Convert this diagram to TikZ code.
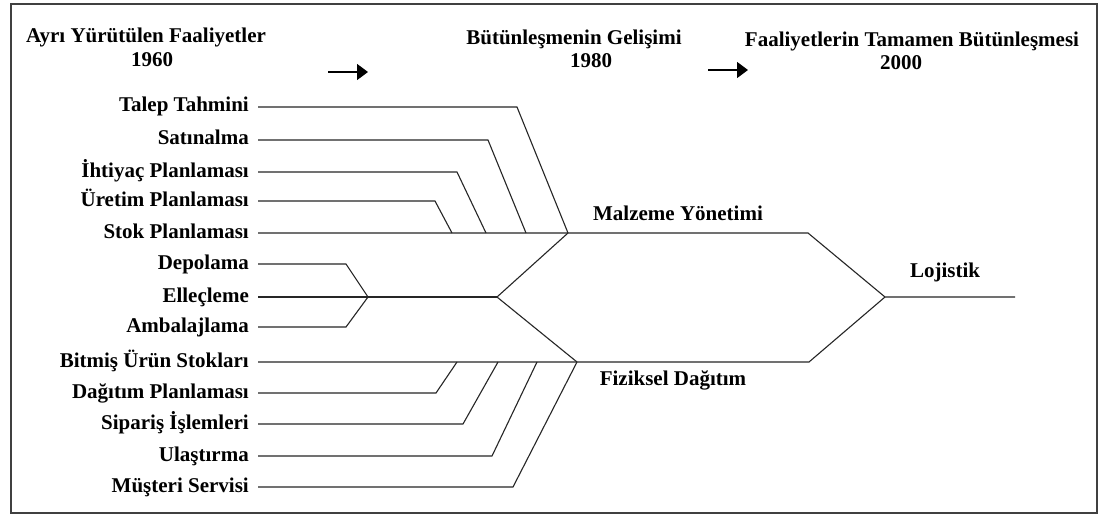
\documentclass[tikz,border=0pt]{standalone}
\usepackage{fontspec}
\setmainfont{Liberation Serif}
\usetikzlibrary{arrows.meta}
\begin{document}
\begin{tikzpicture}[x=1pt,y=-1pt,
  lbl/.style={font=\fontsize{21}{23}\selectfont\bfseries, inner sep=0pt, text=black},
  llbl/.style={lbl, anchor=base east},
  conn/.style={draw=black!85, line width=1.1pt, line join=miter},
  hdarrow/.style={draw=black, line width=1.4pt, -{Triangle[length=11pt,width=16pt]}}]
\useasboundingbox (0,0) rectangle (1103,516);
\fill[white] (0,0) rectangle (1103,516);
\draw[draw=black!75, line width=2pt] (10.5,4) rectangle (1097,513);

% headers
\node[lbl, anchor=base] (h1a) at (146,43) {Ayrı Yürütülen Faaliyetler};
\node[lbl, anchor=base] (h1b) at (152,67) {1960};
\node[lbl, anchor=base] (h2a) at (574,45) {Bütünleşmenin Gelişimi};
\node[lbl, anchor=base] (h2b) at (591,68) {1980};
\node[lbl, anchor=base] (h3a) at (912,47) {Faaliyetlerin Tamamen Bütünleşmesi};
\node[lbl, anchor=base] (h3b) at (901,70) {2000};
\coordinate (a1s) at (328,72); \coordinate (a1e) at (368,72);
\coordinate (a2s) at (708,70); \coordinate (a2e) at (748,70);
\draw[hdarrow] (a1s) -- (a1e);
\draw[hdarrow] (a2s) -- (a2e);

% left labels
\foreach \n/\y/\t in {t1/107/Talep Tahmini, t2/140/Satınalma, t3/172/İhtiyaç Planlaması,
  t4/201/Üretim Planlaması, t5/233/Stok Planlaması, t6/264/Depolama, t7/297/Elleçleme,
  t8/327/Ambalajlama, t9/362/Bitmiş Ürün Stokları, t10/393/Dağıtım Planlaması,
  t11/424/Sipariş İşlemleri, t12/456/Ulaştırma, t13/487/Müşteri Servisi}{
  \node[llbl] (\n) at (249,\y+5) {\t};
  \coordinate (s\n) at (258,\y);
}

% junctions
\coordinate (M) at (568,233);
\coordinate (F) at (577,362);
\coordinate (X) at (497,297);
\coordinate (K) at (368,297);
\coordinate (ME) at (808,233);
\coordinate (FE) at (809,362);
\coordinate (L) at (885,297);
\coordinate (LE) at (1015,297);

% right labels
\node[lbl, anchor=base] (mal) at (678,220) {Malzeme Yönetimi};
\node[lbl, anchor=base] (fiz) at (673,385) {Fiziksel Dağıtım};
\node[lbl, anchor=base] (loj) at (945,277) {Lojistik};

% upper branch
\draw[conn] (st1) -- (517,107) -- (M);
\draw[conn] (st2) -- (488,140) -- (526,233);
\draw[conn] (st3) -- (457,172) -- (486,233);
\draw[conn] (st4) -- (435,201) -- (452,233);
\draw[conn] (st5) -- (M) -- (ME) -- (L) -- (LE);

% middle branch
\draw[conn] (st6) -- (346,264) -- (K);
\draw[conn] (st8) -- (346,327) -- (K);
\draw[conn] (st7) -- (K) -- (X);
\draw[conn] (M) -- (X) -- (F);

% lower branch
\draw[conn] (st9) -- (F) -- (FE) -- (L);
\draw[conn] (st10) -- (436,393) -- (457,362);
\draw[conn] (st11) -- (463,424) -- (498,362);
\draw[conn] (st12) -- (492,456) -- (537,362);
\draw[conn] (st13) -- (513,487) -- (F);
\end{tikzpicture}
\end{document}
